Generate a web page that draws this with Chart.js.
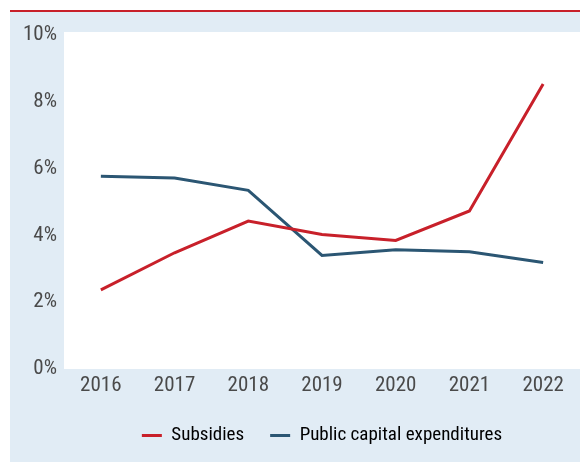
<!DOCTYPE html>
<html>
<head>
<meta charset="utf-8">
<script src="https://cdn.jsdelivr.net/npm/chart.js@4"></script>
<style>
html, body { margin: 0; padding: 0; background: #fff; }
#caixa { width: 580px; height: 462px; position: relative; }
</style>
</head>
<body>
<div id="caixa"><canvas id="grafico"></canvas></div>
<script>
// dados (% do PIB)
const anos = ['2016', '2017', '2018', '2019', '2020', '2021', '2022'];
const subsidios = [2.37, 3.48, 4.43, 4.03, 3.85, 4.73, 8.53];
const capitalPublico = [5.77, 5.72, 5.35, 3.40, 3.57, 3.51, 3.19];
const yMin = 0;
const yMax = 10;
const yPasso = 2;

const fonte = "'Liberation Sans Narrow', 'Arial Narrow', 'Roboto Condensed', sans-serif";
const corTexto = '#4a4a4a';
const vermelho = '#c8202a';
const azul = '#2b5673';

// fundo azul, linha vermelha no topo, área branca e caixa da legenda
const fundo = {
    id: 'fundo',
    afterUpdate(chart) {
        // centralizar a legenda sobre a área do gráfico
        chart.legend.left = chart.chartArea.left;
        chart.legend.adjustHitBoxes();
    },
    beforeDraw(chart) {
        const { ctx, chartArea: a, width, height } = chart;
        ctx.save();
        ctx.fillStyle = '#e1ecf5';
        ctx.fillRect(10, 12, width - 10, height - 12);
        ctx.fillStyle = vermelho;
        ctx.fillRect(10, 10, width - 10, 2);
        ctx.fillStyle = '#fff';
        ctx.fillRect(a.left, a.top - 3, width - a.left, a.bottom - a.top + 3);

        const caixas = chart.legend.legendHitBoxes;
        if (caixas && caixas.length) {
            const ini = caixas[0];
            const fim = caixas[caixas.length - 1];
            const meio = ini.top + ini.height / 2;
            ctx.fillRect(ini.left - 10, meio - 20, fim.left + fim.width + 12 - (ini.left - 10), 40);
        }
        ctx.restore();
    }
};

const ctx = document.getElementById('grafico').getContext('2d');
new Chart(ctx, {
    type: 'line',
    data: {
        labels: anos,
        datasets: [{
            label: 'Subsidies',
            data: subsidios,
            borderColor: vermelho,
            backgroundColor: vermelho,
            borderWidth: 3,
            pointRadius: 0,
            tension: 0
        }, {
            label: 'Public capital expenditures',
            data: capitalPublico,
            borderColor: azul,
            backgroundColor: azul,
            borderWidth: 3,
            pointRadius: 0,
            tension: 0
        }]
    },
    options: {
        responsive: true,
        maintainAspectRatio: false,
        animation: false,
        layout: {
            padding: { top: 35, left: 0, right: 0, bottom: 7 }
        },
        plugins: {
            tooltip: { enabled: false },
            legend: {
                position: 'bottom',
                labels: {
                    boxWidth: 20,
                    boxHeight: 3,
                    padding: 26,
                    color: corTexto,
                    font: { family: fonte, size: 19 },
                    generateLabels(chart) {
                        return chart.data.datasets.map((ds, i) => ({
                            text: ds.label,
                            fillStyle: ds.borderColor,
                            strokeStyle: ds.borderColor,
                            lineWidth: 0,
                            datasetIndex: i
                        }));
                    }
                }
            }
        },
        scales: {
            x: {
                offset: true,
                grid: { display: false, drawTicks: false },
                border: { display: false },
                ticks: {
                    padding: 4,
                    color: corTexto,
                    font: { family: fonte, size: 21 },
                    maxRotation: 0
                },
                afterFit(scale) { scale.height = 31; }
            },
            y: {
                min: yMin,
                max: yMax,
                grid: { display: false, drawTicks: false },
                border: { display: false },
                ticks: {
                    stepSize: yPasso,
                    padding: 7,
                    color: corTexto,
                    font: { family: fonte, size: 21 },
                    callback: (v) => v + '%'
                },
                afterFit(scale) { scale.width = 64; }
            }
        }
    },
    plugins: [fundo]
});
</script>
</body>
</html>
